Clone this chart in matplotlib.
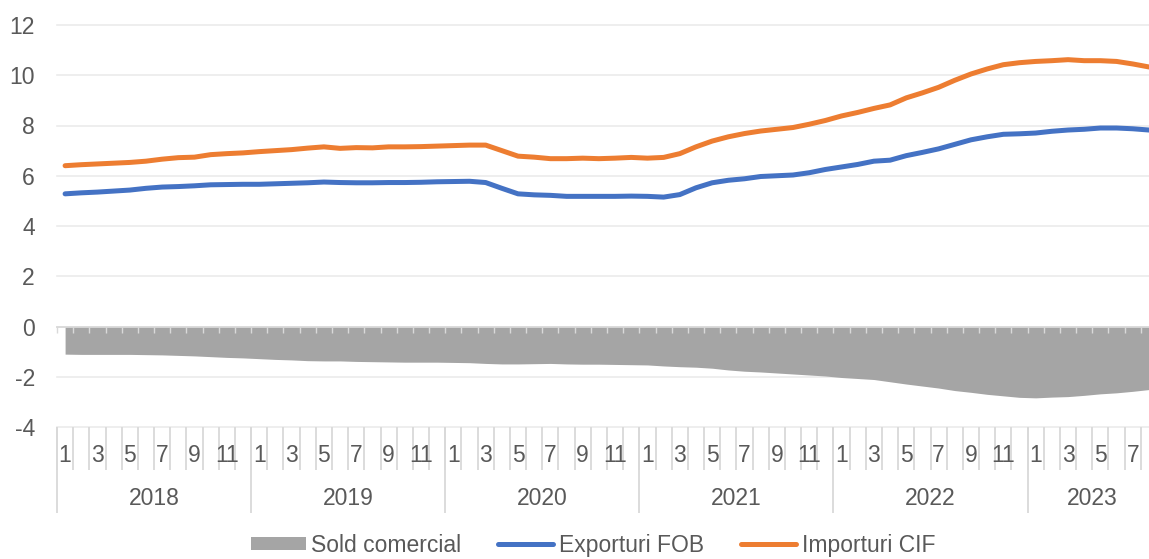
import numpy as np
import matplotlib.pyplot as plt
import matplotlib.transforms as mtransforms

plt.rcParams['font.family'] = ['Liberation Sans', 'DejaVu Sans']
plt.rcParams['axes.unicode_minus'] = False

# date lunare, ian 2018 - aug 2023
years = ['2018', '2019', '2020', '2021', '2022', '2023']
month_labels = ['1', '', '3', '', '5', '', '7', '', '9', '', '11', '']

importuri = [
    6.40, 6.44, 6.47, 6.50, 6.53, 6.58, 6.66, 6.72, 6.74, 6.84, 6.88, 6.91,
    6.96, 7.00, 7.04, 7.10, 7.15, 7.09, 7.12, 7.11, 7.15, 7.15, 7.16, 7.18,
    7.20, 7.22, 7.22, 7.00, 6.78, 6.74, 6.68, 6.68, 6.70, 6.68, 6.70, 6.73,
    6.70, 6.73, 6.88, 7.15, 7.38, 7.55, 7.68, 7.78, 7.85, 7.92, 8.05, 8.20,
    8.38, 8.52, 8.68, 8.82, 9.10, 9.30, 9.52, 9.80, 10.05, 10.25, 10.42, 10.50,
    10.55, 10.58, 10.62, 10.58, 10.58, 10.55, 10.45, 10.33,
]
exporturi = [
    5.28, 5.32, 5.35, 5.39, 5.43, 5.50, 5.55, 5.57, 5.60, 5.64, 5.65, 5.66,
    5.66, 5.68, 5.70, 5.72, 5.75, 5.73, 5.72, 5.72, 5.73, 5.73, 5.74, 5.76,
    5.77, 5.78, 5.73, 5.50, 5.28, 5.24, 5.22, 5.18, 5.18, 5.18, 5.18, 5.19,
    5.18, 5.15, 5.25, 5.52, 5.72, 5.82, 5.88, 5.97, 6.00, 6.03, 6.12, 6.25,
    6.35, 6.45, 6.58, 6.62, 6.80, 6.93, 7.07, 7.25, 7.43, 7.55, 7.65, 7.67,
    7.70, 7.77, 7.82, 7.85, 7.90, 7.90, 7.87, 7.82,
]
sold = [
    -1.10, -1.11, -1.11, -1.11, -1.11, -1.12, -1.13, -1.15, -1.17, -1.20, -1.23, -1.25,
    -1.28, -1.31, -1.33, -1.36, -1.37, -1.37, -1.39, -1.40, -1.41, -1.42, -1.42, -1.42,
    -1.43, -1.44, -1.47, -1.49, -1.49, -1.48, -1.47, -1.49, -1.50, -1.50, -1.51, -1.52,
    -1.53, -1.57, -1.60, -1.62, -1.66, -1.73, -1.78, -1.81, -1.85, -1.89, -1.93, -1.97,
    -2.03, -2.07, -2.11, -2.20, -2.29, -2.37, -2.45, -2.55, -2.62, -2.70, -2.76, -2.82,
    -2.84, -2.81, -2.79, -2.74, -2.68, -2.64, -2.58, -2.51,
]

n = len(importuri)
x = np.arange(n) + 0.5
txt = '#595959'
fs = 16.5

fig = plt.figure(figsize=(11.49, 5.59), dpi=100)
ax = fig.add_axes([57 / 1149, 132 / 559, 1100 / 1149, 402 / 559])

area = ax.fill_between(x, sold, 0, color='#A5A5A5', lw=0, zorder=1)
l1, = ax.plot(x, exporturi, color='#4472C4', lw=3.6, solid_capstyle='round', zorder=3)
l2, = ax.plot(x, importuri, color='#ED7D31', lw=3.6, solid_capstyle='round', zorder=3)

ax.set_xlim(0, 68)
ax.set_ylim(-4, 12)
ax.set_yticks(range(-4, 13, 2))
ax.yaxis.grid(True, color='#EBEBEB', lw=1.2, clip_on=False)
ax.yaxis.set_zorder(0.5)
ax.xaxis.set_zorder(2.6)

for s in ['left', 'right', 'top']:
    ax.spines[s].set_visible(False)
ax.spines['bottom'].set_position(('data', 0))
ax.spines['bottom'].set_color('#D9D9D9')
ax.spines['bottom'].set_linewidth(1.3)
ax.spines['bottom'].set_zorder(2.6)

ax.set_xticks(np.arange(0, n + 1))
ax.tick_params(axis='x', direction='out', length=4, width=1, color='#D9D9D9',
               labelbottom=False)
ax.tick_params(axis='y', length=0, pad=16, labelsize=fs, labelcolor=txt)

# axa de categorii pe doua niveluri
trans = mtransforms.blended_transform_factory(ax.transData, ax.transAxes)
ax.vlines(np.arange(0, n + 1), -0.107, 0, transform=trans, colors='#D9D9D9',
          lw=1.3, clip_on=False)
ax.vlines(np.arange(0, n + 1, 12), -0.214, 0, transform=trans, colors='#D9D9D9',
          lw=1.3, clip_on=False)
for i in range(n):
    lab = month_labels[i % 12]
    if lab:
        ax.text(x[i], -0.07, lab, transform=trans, ha='center', va='center',
                fontsize=fs, color=txt, clip_on=False)
for k, yr in enumerate(years):
    end = min(12 * (k + 1), n)
    ax.text((12 * k + end) / 2, -0.177, yr, transform=trans, ha='center',
            va='center', fontsize=fs, color=txt, clip_on=False)

fig.legend([area, l1, l2], ['Sold comercial', 'Exporturi FOB', 'Importuri CIF'],
           loc='center', bbox_to_anchor=(0.516, 0.025), ncol=3, frameon=False,
           handlelength=2.4, handleheight=0.45, handletextpad=0.25,
           columnspacing=1.6, prop={'size': fs}, labelcolor=txt,
           borderpad=0.1)

fig.savefig('out.png', dpi=100)
